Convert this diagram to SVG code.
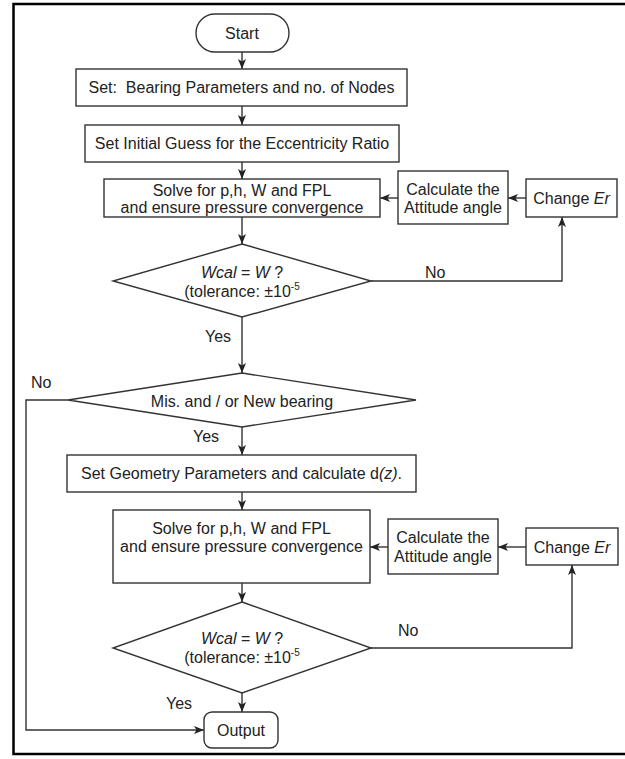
<svg xmlns="http://www.w3.org/2000/svg" width="625" height="759" viewBox="0 0 625 759">
<style>
.box{fill:#fff;stroke:#333;stroke-width:1.4}
.t{font-family:"Liberation Sans",Arial,sans-serif;font-size:16px;fill:#222;text-anchor:middle}
.lbl{font-family:"Liberation Sans",Arial,sans-serif;font-size:16px;fill:#222}
.i{font-style:italic}
.sup{font-size:10px}
.c{fill:none;stroke:#333;stroke-width:1.4}
</style>
<defs>
<marker id="ah" viewBox="0 0 10 8" refX="10" refY="4" markerWidth="10" markerHeight="8" orient="auto" markerUnits="userSpaceOnUse">
<path d="M0,0 L10,4 L0,8 L2.5,4 z" fill="#222"/>
</marker>
</defs>
<rect x="13.5" y="4" width="630" height="750" fill="#fff" stroke="#000" stroke-width="2.5"/>
<g id="connectors">
<path class="c" d="M242,52 V69" marker-end="url(#ah)"/>
<path class="c" d="M242,106 V125" marker-end="url(#ah)"/>
<path class="c" d="M242,162 V179" marker-end="url(#ah)"/>
<path class="c" d="M242,217 V244" marker-end="url(#ah)"/>
<path class="c" d="M242,317 V373" marker-end="url(#ah)"/>
<path class="c" d="M242,427 V455" marker-end="url(#ah)"/>
<path class="c" d="M242,492 V510" marker-end="url(#ah)"/>
<path class="c" d="M242,583 V602" marker-end="url(#ah)"/>
<path class="c" d="M242,693 V712" marker-end="url(#ah)"/>
<path class="c" d="M371,281 H562 V217" marker-end="url(#ah)"/>
<path class="c" d="M526,198 H508" marker-end="url(#ah)"/>
<path class="c" d="M398,198 H380" marker-end="url(#ah)"/>
<path class="c" d="M68,400 H26 V730 H204" marker-end="url(#ah)"/>
<path class="c" d="M371,648 H572 V565" marker-end="url(#ah)"/>
<path class="c" d="M526,547 H498" marker-end="url(#ah)"/>
<path class="c" d="M388,547 H370" marker-end="url(#ah)"/>
<text class="lbl" x="425" y="278">No</text>
<text class="lbl" x="205" y="342">Yes</text>
<text class="lbl" x="31" y="388">No</text>
<text class="lbl" x="193" y="442">Yes</text>
<text class="lbl" x="398" y="636">No</text>
<text class="lbl" x="166" y="709">Yes</text>
</g>
<g id="start">
<rect class="box" x="196" y="14" width="93" height="38" rx="19"/>
<text class="t" x="242" y="39">Start</text>
</g>
<g id="set-bearing">
<rect class="box" x="76" y="69" width="331" height="37"/>
<text class="t" x="241.5" y="93" xml:space="preserve">Set:  Bearing Parameters and no. of Nodes</text>
</g>
<g id="initial-guess">
<rect class="box" x="85" y="125" width="314" height="37"/>
<text class="t" x="242" y="149">Set Initial Guess for the Eccentricity Ratio</text>
</g>
<g id="solve1">
<rect class="box" x="104" y="179" width="276" height="38"/>
<text class="t" x="242" y="196">Solve for p,h, W and FPL</text>
<text class="t" x="242" y="213">and ensure pressure convergence</text>
</g>
<g id="calc1">
<rect class="box" x="398" y="171" width="110" height="53"/>
<text class="t" x="453" y="195">Calculate the</text>
<text class="t" x="453" y="213">Attitude angle</text>
</g>
<g id="change1">
<rect class="box" x="526" y="179" width="91" height="38"/>
<text class="t" x="571.5" y="204">Change <tspan class="i">Er</tspan></text>
</g>
<g id="check1">
<polygon class="box" points="242,244 371,281 242,317 113,281"/>
<text class="t" x="242" y="278"><tspan class="i">Wcal</tspan> = <tspan class="i">W</tspan> ?</text>
<text class="t" x="242" y="297">(tolerance: ±10<tspan class="sup" dy="-7">-5</tspan></text>
</g>
<g id="new-bearing">
<polygon class="box" points="242,373 416,400 242,427 68,400"/>
<text class="t" x="242" y="407">Mis. and / or New bearing</text>
</g>
<g id="geometry">
<rect class="box" x="67" y="455" width="349" height="37"/>
<text class="t" x="241.5" y="479">Set Geometry Parameters and calculate d<tspan class="i">(z)</tspan>.</text>
</g>
<g id="solve2">
<rect class="box" x="113" y="510" width="257" height="73"/>
<text class="t" x="241.5" y="534">Solve for p,h, W and FPL</text>
<text class="t" x="241.5" y="552">and ensure pressure convergence</text>
</g>
<g id="calc2">
<rect class="box" x="388" y="519" width="110" height="55"/>
<text class="t" x="443" y="543">Calculate the</text>
<text class="t" x="443" y="562">Attitude angle</text>
</g>
<g id="change2">
<rect class="box" x="526" y="528" width="92" height="37"/>
<text class="t" x="572" y="553">Change <tspan class="i">Er</tspan></text>
</g>
<g id="check2">
<polygon class="box" points="242,602 371,648 242,693 113,648"/>
<text class="t" x="242" y="644"><tspan class="i">Wcal</tspan> = <tspan class="i">W</tspan> ?</text>
<text class="t" x="242" y="663">(tolerance: ±10<tspan class="sup" dy="-7">-5</tspan></text>
</g>
<g id="output">
<rect class="box" x="204" y="712" width="74" height="36" rx="8"/>
<text class="t" x="241" y="736">Output</text>
</g>
</svg>
